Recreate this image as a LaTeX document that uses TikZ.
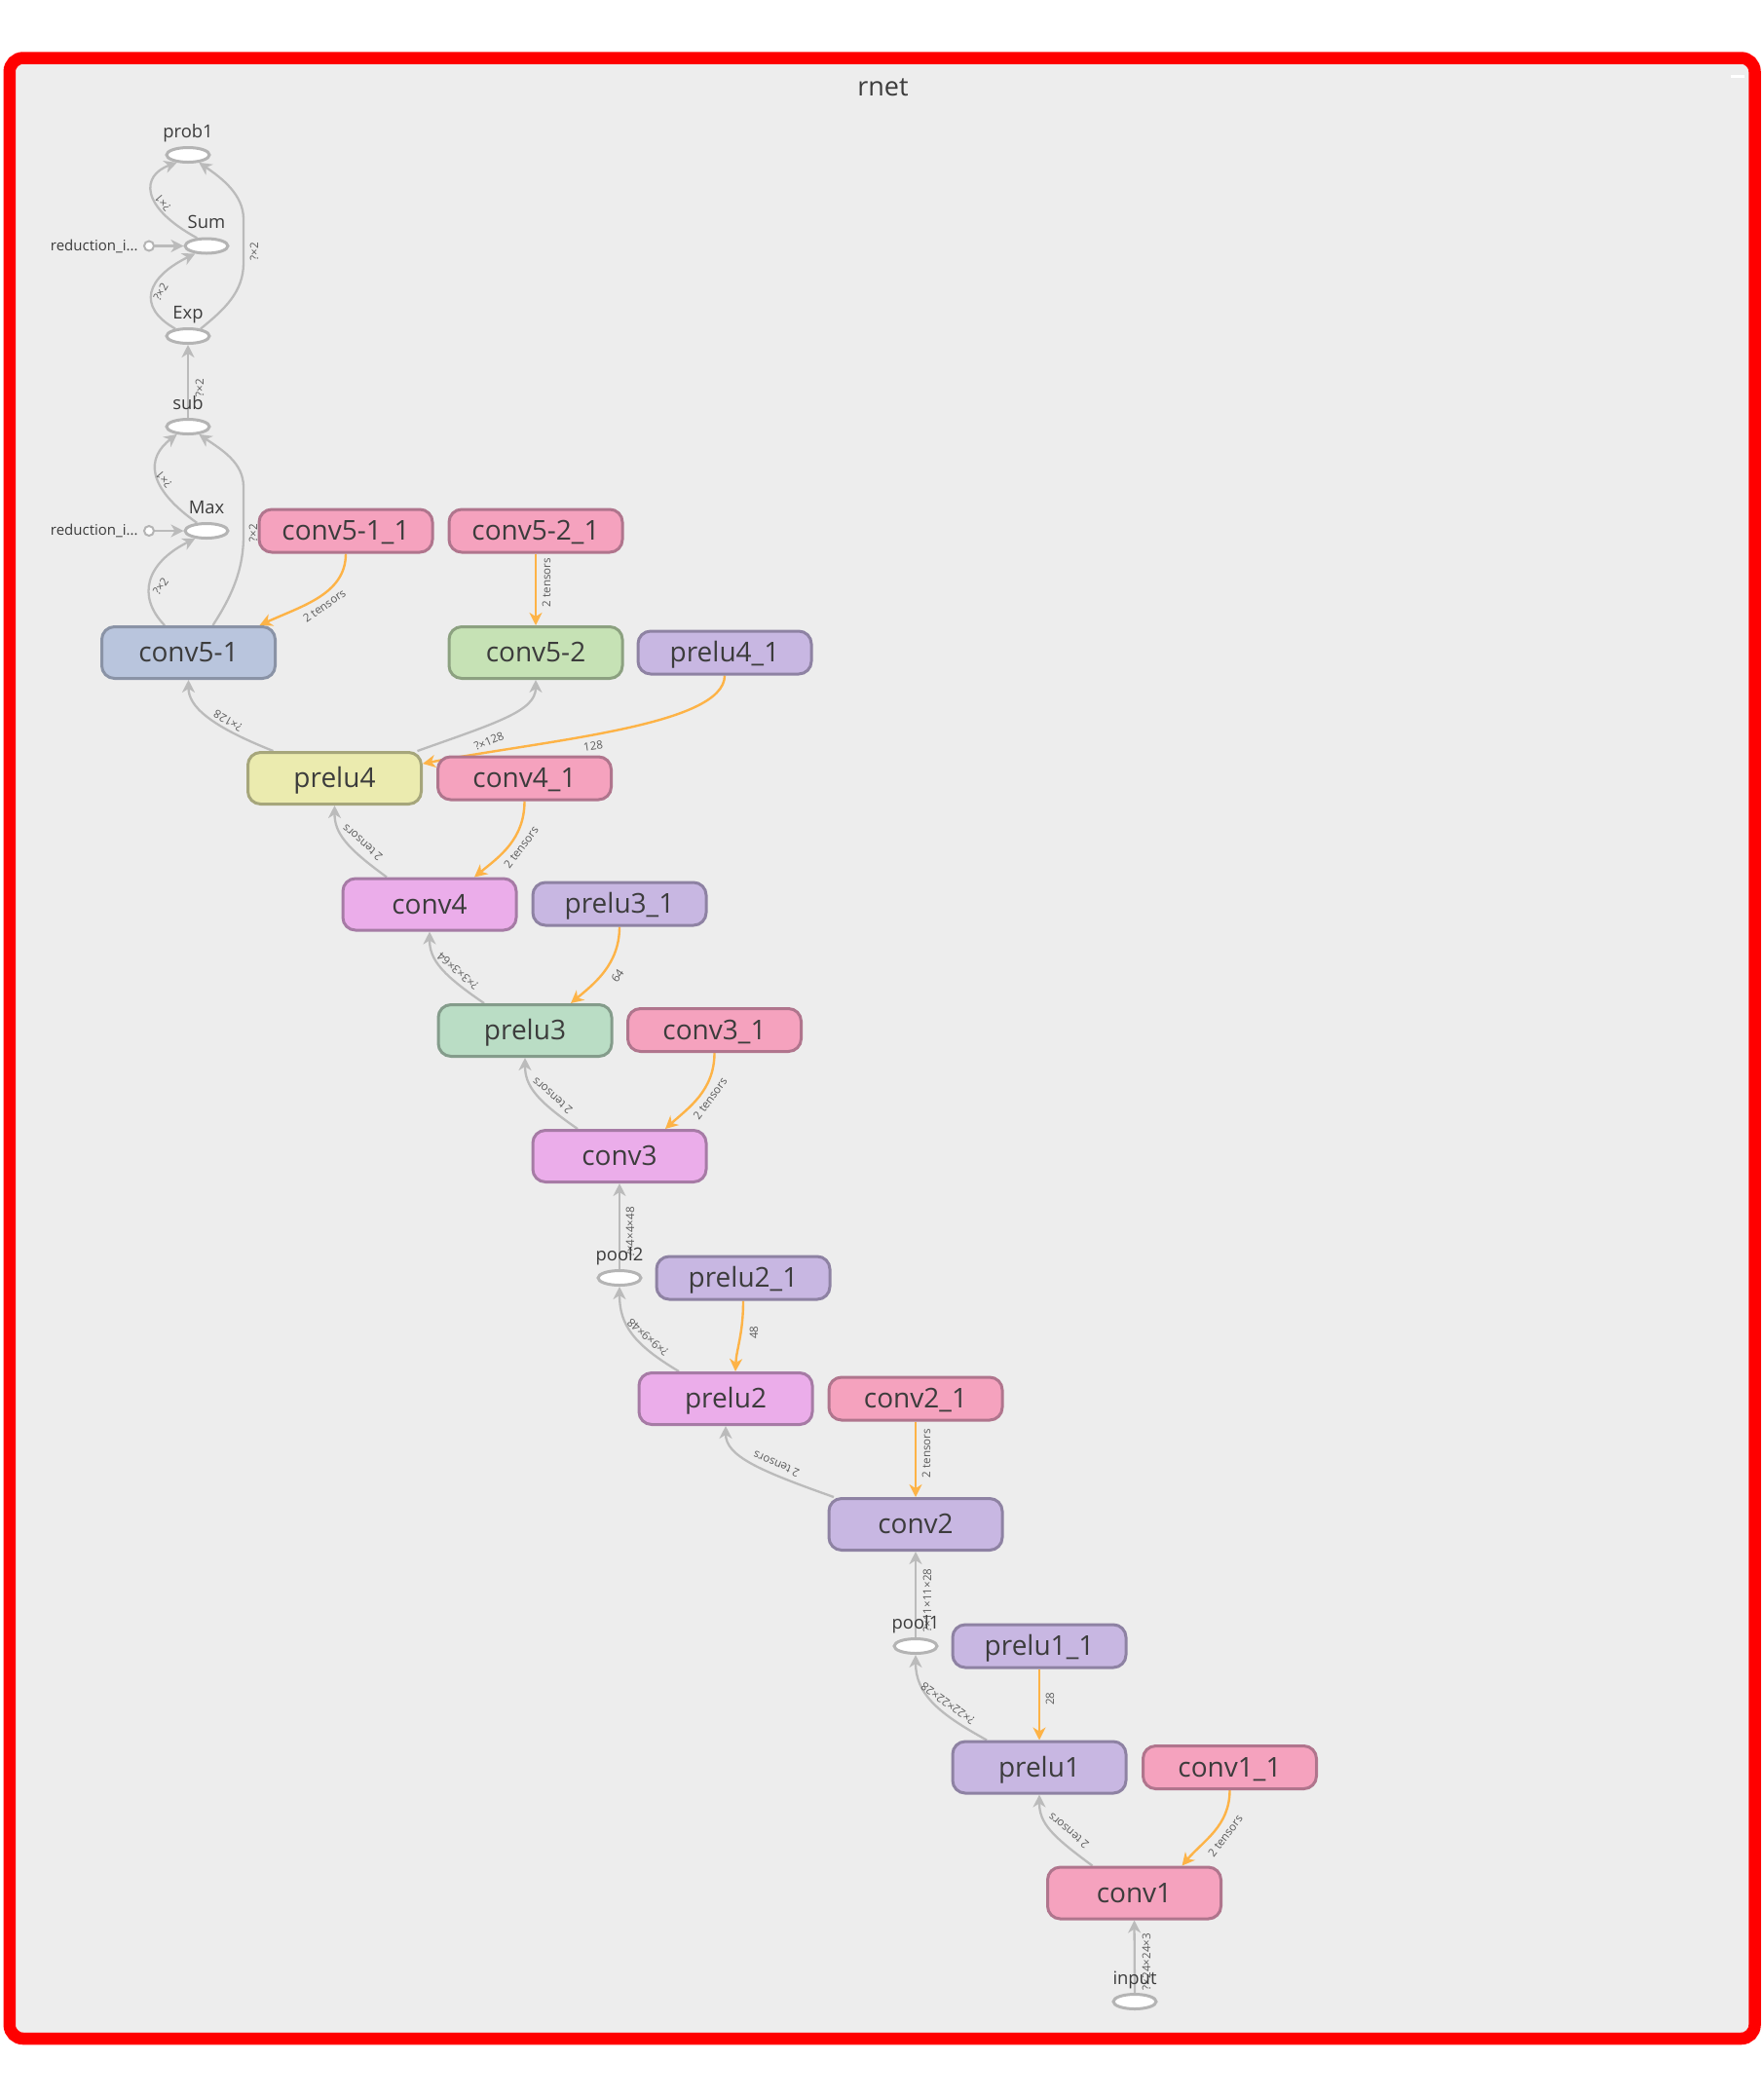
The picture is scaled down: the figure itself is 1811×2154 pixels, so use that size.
\documentclass[tikz,border=0pt]{standalone}
\usepackage{fontspec}
\setmainfont{Open Sans}
\usetikzlibrary{arrows.meta,shapes.geometric,calc}
\pgfdeclarelayer{bg}
\pgfdeclarelayer{edges}
\pgfsetlayers{bg,edges,main}

\definecolor{framered}{HTML}{FF0000}
\definecolor{canvas}{HTML}{EDEDED}
\definecolor{txt}{HTML}{3C3C3C}
\definecolor{flow}{HTML}{BBBBBB}
\definecolor{refc}{HTML}{FDB347}
\definecolor{elab}{HTML}{5C5C5C}
\definecolor{ellstroke}{HTML}{B4B4B4}
\definecolor{bluef}{HTML}{B9C5DD}\definecolor{blued}{HTML}{8A93A6}
\definecolor{pinkf}{HTML}{F5A2BE}\definecolor{pinkd}{HTML}{B0758D}
\definecolor{greenf}{HTML}{C6E2B5}\definecolor{greend}{HTML}{8CA180}
\definecolor{lavf}{HTML}{C8B7E2}\definecolor{lavd}{HTML}{8E82A3}
\definecolor{yelf}{HTML}{EBEBAF}\definecolor{yeld}{HTML}{A6A67B}
\definecolor{magf}{HTML}{EBADEA}\definecolor{magd}{HTML}{A67BA5}
\definecolor{mintf}{HTML}{BADDC5}\definecolor{mintd}{HTML}{849C8B}

\tikzset{
  box/.style={rectangle, rounded corners=6.5pt, line width=1.5pt, minimum width=89pt,
    inner sep=0pt, font=\fontsize{14pt}{15pt}\selectfont, text=txt,
    text height=9.8pt, text depth=0pt},
  opbox/.style={box, minimum height=26.5pt},
  cbox/.style={box, minimum height=22pt},
  bluebox/.style={fill=bluef, draw=blued},
  pinkbox/.style={fill=pinkf, draw=pinkd},
  greenbox/.style={fill=greenf, draw=greend},
  lavbox/.style={fill=lavf, draw=lavd},
  yelbox/.style={fill=yelf, draw=yeld},
  magbox/.style={fill=magf, draw=magd},
  mintbox/.style={fill=mintf, draw=mintd},
  opell/.style={ellipse, draw=ellstroke, fill=white, line width=1.5pt,
    minimum width=22pt, minimum height=7.5pt, inner sep=0pt},
  rcirc/.style={circle, draw=ellstroke, fill=white, line width=1pt,
    minimum size=5pt, inner sep=0pt},
  elbl/.style={font=\fontsize{9.2pt}{11pt}\selectfont, text=txt, anchor=base, inner sep=0pt},
  rlbl/.style={font=\fontsize{7.5pt}{9pt}\selectfont, text=txt, anchor=base east, inner sep=0pt},
  tip/.style={-{Stealth[length=6.5pt,width=6.5pt,inset=2pt]}},
  flowedge/.style={draw=flow, line width=1.15pt, tip},
  refedge/.style={draw=refc, line width=1.2pt, tip},
  edgelbl/.style={font=\fontsize{5.8pt}{6.5pt}\selectfont, text=elab, inner sep=0pt},
}

\begin{document}
\begin{tikzpicture}[x=0.5pt,y=-0.5pt]

% page, frame and canvas
\begin{pgfonlayer}{bg}
  \fill[white] (0,0) rectangle (1811,2154);
  \draw[draw=framered, fill=canvas, line width=6.25pt, rounded corners=7pt]
    (9.8,59.5) rectangle (1801.5,2093);
  \fill[white] (1777,76.5) rectangle (1791,80);
\end{pgfonlayer}

\node[font=\fontsize{13.5pt}{15pt}\selectfont, text=txt, anchor=base] (title) at (906.5,98) {rnet};

% softmax head
\node[opell] (prob1) at (193,159) {};
\node[elbl] (prob1-l) at (193,141) {prob1};
\node[opell] (sum) at (212,252.5) {};
\node[elbl] (sum-l) at (212,234.5) {Sum};
\node[rcirc] (red1) at (153,252.5) {};
\node[rlbl] (red1-l) at (142,257) {reduction\_i...};
\node[opell] (exp) at (193,345) {};
\node[elbl] (exp-l) at (193,327) {Exp};
\node[opell] (sub) at (193,438) {};
\node[elbl] (sub-l) at (193,420) {sub};
\node[opell] (max) at (212,545) {};
\node[elbl] (max-l) at (212,527) {Max};
\node[rcirc] (red2) at (153,545) {};
\node[rlbl] (red2-l) at (142,549.5) {reduction\_i...};

% layer blocks
\node[cbox,pinkbox] (conv511) at (355,545) {conv5-1\_1};
\node[cbox,pinkbox] (conv521) at (550,545) {conv5-2\_1};
\node[opbox,bluebox] (conv51) at (193.5,670) {conv5-1};
\node[opbox,greenbox] (conv52) at (550,670) {conv5-2};
\node[cbox,lavbox] (prelu41) at (744,670) {prelu4\_1};
\node[opbox,yelbox] (prelu4) at (343.5,799) {prelu4};
\node[cbox,pinkbox] (conv41) at (538.5,799) {conv4\_1};
\node[opbox,magbox] (conv4) at (441,928.5) {conv4};
\node[cbox,lavbox] (prelu31) at (636,928) {prelu3\_1};
\node[opbox,mintbox] (prelu3) at (539,1058) {prelu3};
\node[cbox,pinkbox] (conv31) at (733.5,1057.5) {conv3\_1};
\node[opbox,magbox] (conv3) at (636,1187) {conv3};
\node[opell] (pool2) at (636,1312) {};
\node[elbl] (pool2-l) at (636,1294) {pool2};
\node[cbox,lavbox] (prelu21) at (763,1312) {prelu2\_1};
\node[opbox,magbox] (prelu2) at (745,1436) {prelu2};
\node[cbox,pinkbox] (conv21) at (940,1436) {conv2\_1};
\node[opbox,lavbox] (conv2) at (940,1565) {conv2};
\node[opell] (pool1) at (940,1690) {};
\node[elbl] (pool1-l) at (940,1672) {pool1};
\node[cbox,lavbox] (prelu11) at (1067,1690) {prelu1\_1};
\node[opbox,lavbox] (prelu1) at (1067,1814.5) {prelu1};
\node[cbox,pinkbox] (conv11) at (1262.5,1814.5) {conv1\_1};
\node[opbox,pinkbox] (conv1) at (1164.5,1943.5) {conv1};
\node[opell] (input) at (1165,2055) {};
\node[elbl] (input-l) at (1165,2037) {input};

\begin{pgfonlayer}{edges}
  % data flow (grey) and parameter (orange) edges
  \draw[flowedge] (input.north) -- (conv1.south);
  \draw[flowedge] ($(conv1.north)+(-43,0)$) .. controls (1080,1885) and (1067,1872) .. (prelu1.south);
  \draw[refedge] (conv11.south) .. controls (1262.5,1875) and (1235,1890) .. ($(conv1.north)+(49,0)$);
  \draw[refedge] (prelu11.south) -- (prelu1.north);
  \draw[flowedge] ($(prelu1.north)+(-54,0)$) .. controls (965,1760) and (940,1740) .. (pool1.south);
  \draw[flowedge] (pool1.north) -- (conv2.south);
  \draw[refedge] (conv21.south) -- (conv2.north);
  \draw[flowedge] ($(conv2.north)+(-84,0)$) .. controls (780,1510) and (745,1495) .. (prelu2.south);
  \draw[refedge] (prelu21.south) .. controls (763,1370) and (756,1385) .. ($(prelu2.north)+(10,0)$);
  \draw[flowedge] ($(prelu2.north)+(-48,0)$) .. controls (650,1380) and (636,1360) .. (pool2.south);
  \draw[flowedge] (pool2.north) -- (conv3.south);
  \draw[flowedge] ($(conv3.north)+(-43,0)$) .. controls (551,1130) and (539,1115) .. (prelu3.south);
  \draw[refedge] (conv31.south) .. controls (733.5,1120) and (706,1138) .. ($(conv3.north)+(47,0)$);
  \draw[flowedge] ($(prelu3.north)+(-42,0)$) .. controls (453,1000) and (441,985) .. (conv4.south);
  \draw[refedge] (prelu31.south) .. controls (636,990) and (610,1010) .. ($(prelu3.north)+(47,0)$);
  \draw[flowedge] ($(conv4.north)+(-44,0)$) .. controls (355,870) and (343.5,855) .. (prelu4.south);
  \draw[refedge] (conv41.south) .. controls (538.5,862) and (512,880) .. ($(conv4.north)+(46,0)$);
  \draw[flowedge] ($(prelu4.north)+(-63,0)$) .. controls (215,745) and (193.5,725) .. (conv51.south);
  \draw[flowedge] ($(prelu4.north)+(85,0)$) .. controls (510,742) and (550,730) .. (conv52.south);
  \draw[refedge] (prelu41.south) .. controls (744,745) and (560,760) .. ($(prelu4.east)+(0,-15)$);
  \draw[refedge] (conv511.south) .. controls (355,610) and (310,622) .. ($(conv51.north)+(73,0)$);
  \draw[refedge] (conv521.south) -- (conv52.north);
  \draw[flowedge] ($(conv51.north)+(-24.5,0)$) .. controls (140,612) and (150,578) .. (max.214);
  \draw[flowedge] ($(conv51.north)+(25,0)$) .. controls (238,612) and (250,585) .. (250,550)
    -- (250,500) .. controls (250,475) and (228,462) .. (sub.-35);
  \draw[flowedge] (red2) -- (max.west);
  \draw[flowedge] (max.140) .. controls (150,500) and (150,470) .. (sub.215);
  \draw[flowedge] (sub.north) -- (exp.south);
  \draw[flowedge] (exp.150) .. controls (140,315) and (150,285) .. (sum.214);
  \draw[flowedge] (exp.30) .. controls (230,318) and (250,300) .. (250,270)
    -- (250,225) .. controls (250,200) and (228,183) .. (prob1.-35);
  \draw[flowedge] (red1) -- (sum.west);
  \draw[flowedge] (sum.140) .. controls (143,212) and (145,180) .. (prob1.215);

  % tensor shape labels
  \node[edgelbl, rotate=90] (t1) at (1177,2014) {?×24×24×3};
  \node[edgelbl, rotate=140] (t2) at (1097,1880) {2 tensors};
  \node[edgelbl, rotate=53] (t3) at (1258,1885) {2 tensors};
  \node[edgelbl, rotate=90] (t4) at (1078,1744) {28};
  \node[edgelbl, rotate=144] (t5) at (973,1749) {?×22×22×28};
  \node[edgelbl, rotate=90] (t6) at (952,1643) {?×11×11×28};
  \node[edgelbl, rotate=90] (t7) at (951,1492) {2 tensors};
  \node[edgelbl, rotate=157] (t8) at (797,1503) {2 tensors};
  \node[edgelbl, rotate=90] (t9) at (774,1368) {48};
  \node[edgelbl, rotate=139] (t10) at (665,1373) {?×9×9×48};
  \node[edgelbl, rotate=90] (t11) at (647,1265) {?×4×4×48};
  \node[edgelbl, rotate=139] (t12) at (567,1125) {2 tensors};
  \node[edgelbl, rotate=54] (t13) at (729,1128) {2 tensors};
  \node[edgelbl, rotate=139] (t14) at (470,997) {?×3×3×64};
  \node[edgelbl, rotate=55] (t15) at (634,1002) {64};
  \node[edgelbl, rotate=139] (t16) at (372,865) {2 tensors};
  \node[edgelbl, rotate=53] (t17) at (535,870) {2 tensors};
  \node[edgelbl, rotate=150] (t18) at (234,740) {?×128};
  \node[edgelbl, rotate=23] (t19) at (502,761) {?×128};
  \node[edgelbl, rotate=8] (t20) at (609,766) {128};
  \node[edgelbl, rotate=35] (t21) at (333,622) {2 tensors};
  \node[edgelbl, rotate=90] (t22) at (561,598) {2 tensors};
  \node[edgelbl, rotate=55] (t23) at (165,602) {?×2};
  \node[edgelbl, rotate=90] (t24) at (260,547) {?×2};
  \node[edgelbl, rotate=130] (t25) at (168,492) {?×1};
  \node[edgelbl, rotate=90] (t26) at (205,398) {?×2};
  \node[edgelbl, rotate=60] (t27) at (165,300) {?×2};
  \node[edgelbl, rotate=90] (t28) at (261,258) {?×2};
  \node[edgelbl, rotate=130] (t29) at (167,208) {?×1};
\end{pgfonlayer}

\end{tikzpicture}
\end{document}
